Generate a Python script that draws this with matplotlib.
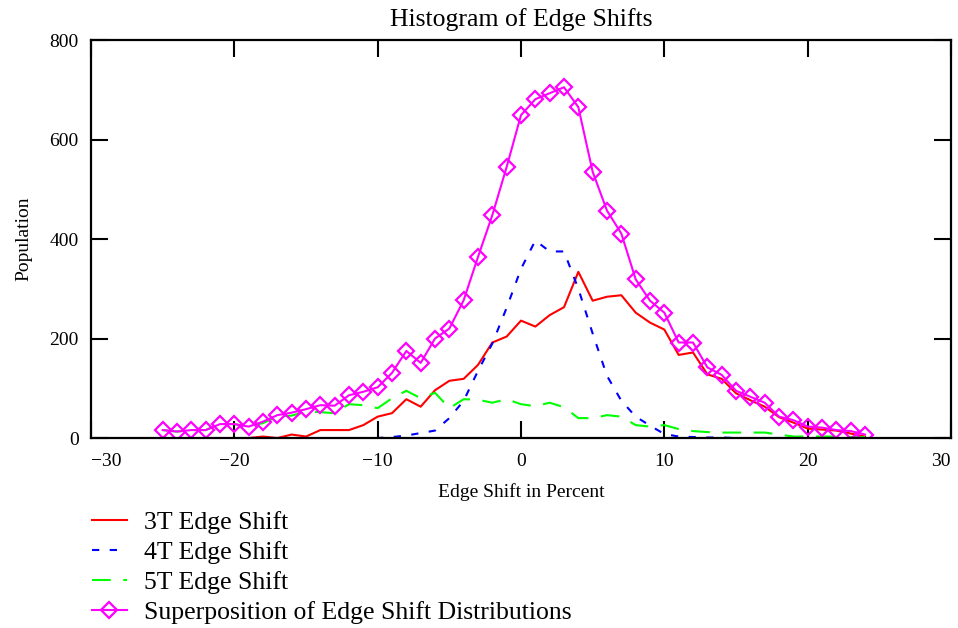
import numpy as np
import matplotlib
matplotlib.use("Agg")
import matplotlib.pyplot as plt

plt.rcParams['font.family'] = ['Liberation Serif', 'DejaVu Serif']

## bin centres (percent) for each distribution
x_3t = np.arange(-19, 25)
x_4t = np.arange(-20, 25)
x_5t = np.arange(-25, 25)
x_sum = np.arange(-25, 25)

pop_3t = [0, 3, 0, 7, 3, 16, 16, 16, 26, 43, 50, 78, 63, 96, 115, 119, 147, 192, 204, 236,
          224, 247, 263, 334, 276, 284, 287, 252, 232, 218, 167, 172, 128, 119, 90, 76, 63,
          42, 31, 19, 17, 15, 9, 3]
pop_4t = [0, 0, 0, 0, 0, 0, 0, 0, 0, 0, 0, 2, 5, 10, 15, 40, 75, 135, 190, 262,
          340, 397, 375, 375, 300, 210, 125, 75, 43, 25, 8, 3, 2, 1, 1, 0, 0,
          0, 0, 0, 0, 0, 0, 0, 0]
pop_5t = [16, 13, 16, 16, 28, 28, 23, 30, 43, 45, 53, 52, 50, 68, 66, 60, 80, 95, 80, 91,
          60, 78, 77, 71, 78, 68, 64, 71, 62, 40, 40, 46, 43, 26, 23, 26, 18, 14, 12, 11,
          11, 11, 11, 7, 3, 3, 3, 3, 2, 2]
pop_sum = [16, 13, 16, 16, 28, 28, 23, 33, 46, 51, 58, 66, 65, 86, 93, 102, 131, 175, 151, 200,
           220, 277, 364, 448, 545, 649, 681, 693, 705, 665, 535, 457, 411, 319, 276, 252, 192,
           192, 142, 127, 95, 83, 71, 43, 36, 23, 21, 16, 14, 7]

fig = plt.figure(figsize=(9.58, 6.28), dpi=100)
ax = fig.add_axes([0.095, 0.3025, 0.8977, 0.6338])

l3, = ax.plot(x_3t, pop_3t, color='#ff0000', lw=1.5, label='3T Edge Shift')
l4, = ax.plot(x_4t, pop_4t, color='#0000ff', lw=1.5, dashes=(3.5, 5), label='4T Edge Shift')
l5, = ax.plot(x_5t, pop_5t, color='#00ff00', lw=1.5, dashes=(9, 6), label='5T Edge Shift')
ls, = ax.plot(x_sum, pop_sum, color='#ff00ff', lw=1.5, marker='D', ms=8, mfc='none',
              mec='#ff00ff', mew=1.6, label='Superposition of Edge Shift Distributions')

ax.set_xlim(-30, 30)
ax.set_ylim(0, 800)
ax.set_xticks([-30, -20, -10, 0, 10, 20, 30])
ax.set_yticks([0, 200, 400, 600, 800])
ax.tick_params(direction='in', length=12, width=1.5, top=True, right=True,
               labelsize=14, colors='black')
ax.tick_params(axis='x', pad=11)
ax.tick_params(axis='y', pad=9)
for s in ax.spines.values():
    s.set_linewidth(1.6)

# keep the end labels inside the figure
xlabels = ax.get_xticklabels()
xlabels[0].set_horizontalalignment('left')
xlabels[-1].set_horizontalalignment('right')

ax.set_title('Histogram of Edge Shifts', fontsize=18.5, pad=10)
ax.set_xlabel('Edge Shift in Percent', fontsize=14, labelpad=9)
ax.set_ylabel('Population', fontsize=14, labelpad=12)

fig.legend(handles=[l3, l4, l5, ls], loc='upper left', bbox_to_anchor=(0.085, 0.203),
           frameon=False, fontsize=18.5, handlelength=1.36, handletextpad=0.66,
           labelspacing=0.27, borderaxespad=0)

fig.savefig('out.png', dpi=100)
